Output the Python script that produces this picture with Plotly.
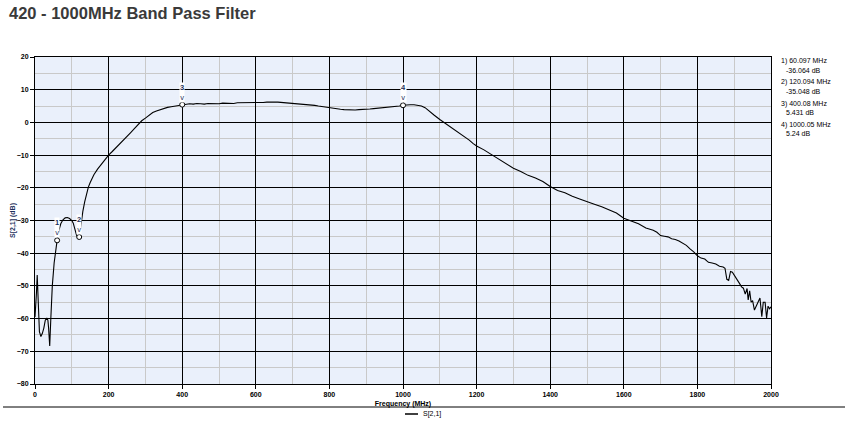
import plotly.graph_objects as go

# ---- data ----
freq_mhz = [0, 2, 4, 6, 8, 10, 12, 16, 20, 24, 28, 32, 35, 37, 40, 43, 47, 52, 56, 60.097,
            65, 70, 76, 82, 88, 94, 100, 104, 108, 113, 117, 120.094, 123, 126, 130, 135,
            140, 145, 150, 160, 170, 180, 190, 200, 210, 220, 230, 240, 250, 260, 270, 280,
            290, 300, 310, 320, 330, 340, 350, 360, 370, 380, 390, 400.08, 410, 420, 430,
            440, 450, 460, 470, 480, 490, 500, 510, 520, 530, 540, 550, 560, 570, 580, 590,
            600, 610, 620, 630, 640, 650, 660, 670, 680, 690, 700, 710, 720, 730, 740, 750,
            760, 770, 780, 790, 800, 810, 820, 830, 840, 850, 860, 870, 880, 890, 900, 910,
            920, 930, 940, 950, 960, 970, 980, 990, 1000.05, 1010, 1020, 1030, 1040, 1050,
            1060, 1070, 1085, 1100, 1120, 1140, 1160, 1170, 1180, 1190, 1200, 1220, 1240,
            1250, 1260, 1280, 1300, 1320, 1340, 1360, 1380, 1400, 1420, 1440, 1460, 1480,
            1500, 1520, 1540, 1560, 1580, 1600, 1620, 1640, 1660, 1680, 1690, 1700, 1710,
            1720, 1730, 1740, 1750, 1760, 1770, 1780, 1790, 1800, 1810, 1820, 1830, 1840,
            1850, 1860, 1870, 1875, 1880, 1885, 1890, 1895, 1900, 1907, 1913, 1920, 1925,
            1930, 1935, 1938, 1942, 1946, 1950, 1955, 1960, 1965, 1970, 1975, 1979, 1984,
            1988, 1992, 1996, 2000]
s21_db = [-59.5, -57.0, -52.0, -46.7, -52.0, -60.0, -64.0, -65.5, -64.5, -62.9, -60.5, -59.8,
          -60.5, -63.0, -68.4, -60.0, -50.0, -43.0, -39.0, -36.064,
          -33.0, -31.0, -29.8, -29.2, -29.1, -29.4, -30.0, -30.8, -32.5, -34.5, -35.2, -35.048,
          -33.0, -29.5, -27.2, -24.3, -21.7, -19.8, -18.4, -16.0, -14.3, -12.8, -11.3, -10.0,
          -8.9, -7.8, -6.6, -5.4, -4.3, -3.1, -1.9, -0.6, 0.5, 1.3, 2.2, 3.0, 3.5, 3.9, 4.3,
          4.6, 4.8, 5.0, 5.2, 5.431, 5.6, 5.7, 5.6, 5.8, 5.7, 5.6, 5.8, 5.7, 5.8, 5.7, 5.9,
          5.8, 5.9, 5.8, 6.0, 6.0, 5.9, 5.9, 6.1, 6.1, 6.0, 6.1, 6.2, 6.3, 6.2, 6.2, 6.1, 6.1,
          6.0, 6.0, 5.9, 5.8, 5.6, 5.5, 5.3, 5.2, 5.0, 4.8, 4.7, 4.5, 4.3, 4.2, 4.0, 3.9, 3.8,
          3.7, 3.8, 3.9, 3.9, 4.0, 4.1, 4.2, 4.3, 4.4, 4.5, 4.6, 4.7, 4.9, 5.0, 5.24, 5.4,
          5.4, 5.4, 5.3, 5.0, 4.5, 3.5, 2.2, 0.9, -0.7, -2.2, -3.7, -4.5, -5.4, -6.4, -7.2,
          -8.4, -9.8, -10.4, -11.2, -12.5, -14.0, -15.0, -16.2, -17.0, -18.1, -19.6, -20.8,
          -21.5, -22.6, -23.4, -24.3, -25.0, -25.8, -26.8, -27.7, -29.3, -30.2, -31.0, -32.3,
          -33.0, -33.6, -34.6, -34.8, -35.0, -35.6, -35.8, -36.3, -36.9, -37.6, -38.7, -39.6,
          -40.8, -41.5, -41.8, -42.8, -43.0, -43.3, -44.0, -44.2, -44.6, -48.0, -48.3, -45.6,
          -45.8, -46.8, -48.0, -49.0, -50.3, -50.7, -52.5, -50.8, -54.3, -51.5, -55.0, -54.5,
          -57.4, -56.0, -55.2, -53.7, -59.4, -55.0, -55.0, -59.8, -56.2, -57.0, -56.4]

marker_ids = [1, 2, 3, 4]
marker_freq = [60.097, 120.094, 400.08, 1000.05]
marker_db = [-36.064, -35.048, 5.431, 5.24]

series_name = "S[2,1]"
title_text = "420 - 1000MHz Band Pass Filter"
x_title = "Frequency (MHz)"
y_title = "S[2,1] (dB)"
x_ticks = [0, 200, 400, 600, 800, 1000, 1200, 1400, 1600, 1800, 2000]
y_ticks = [20, 10, 0, -10, -20, -30, -40, -50, -60, -70, -80]

# ---- geometry ----
W, H = 849, 422
L, R, T, B = 35, 78, 57, 38
pw, ph = W - L - R, H - T - B


def px_x(p):
    return (p - L) / pw


def px_y(p):
    return (H - B - p) / ph


FONT = "Liberation Sans, Arial, sans-serif"
NAVY = "#1c2f5c"

fig = go.Figure()
fig.add_trace(go.Scatter(x=freq_mhz, y=s21_db, mode="lines", name=series_name,
                         showlegend=False, line=dict(color="#000000", width=1.1)))
fig.add_trace(go.Scatter(x=marker_freq, y=marker_db, mode="markers", showlegend=False,
                         hoverinfo="skip",
                         marker=dict(symbol="circle", size=5, color="white",
                                     line=dict(color="black", width=1))))

annotations = [dict(x=px_x(7), y=px_y(13), xref="paper", yref="paper",
                    text=f"<b>{title_text}</b>", showarrow=False, xanchor="left",
                    yanchor="middle", font=dict(family=FONT, size=16.5, color="#3a3a3a")),
               # legend entry text (sample line drawn as a shape below)
               dict(x=px_x(421), y=px_y(414), xref="paper", yref="paper",
                    text=series_name, showarrow=False, xanchor="left", yanchor="middle",
                    font=dict(family=FONT, size=7, color="black"))]
for i, f, d in zip(marker_ids, marker_freq, marker_db):
    annotations.append(dict(x=f, y=d, xref="x", yref="y", text=f"<b>{i}</b><br>v",
                            showarrow=False, yanchor="bottom", yshift=2, bgcolor="white",
                            borderpad=0, font=dict(family=FONT, size=7.5, color=NAVY)))
    k = i - 1
    annotations.append(dict(x=px_x(779), y=px_y(61 + 21.3 * k), xref="paper", yref="paper",
                            text=f"{i}) {f} MHz", showarrow=False, xanchor="left",
                            yanchor="middle", font=dict(family=FONT, size=7, color="#000")))
    annotations.append(dict(x=px_x(784), y=px_y(70 + 21.3 * k), xref="paper", yref="paper",
                            text=f"{d} dB", showarrow=False, xanchor="left",
                            yanchor="middle", font=dict(family=FONT, size=7, color="#000")))

axis_common = dict(showline=True, linecolor="black", linewidth=1, mirror=True,
                   showgrid=True, gridcolor="black", gridwidth=1, zeroline=False,
                   ticks="outside", ticklen=4, tickcolor="black", automargin=False,
                   tickfont=dict(family=FONT, size=7, color="black", weight="bold"))

fig.update_layout(
    width=W, height=H, autosize=False,
    margin=dict(l=L, r=R, t=T, b=B),
    paper_bgcolor="white", plot_bgcolor="#eaf0fb",
    xaxis=dict(range=[0, 2000], tickvals=x_ticks,
               minor=dict(dtick=100, showgrid=True, gridcolor="#c9c9c9", gridwidth=1,
                          ticks=""),
               title=dict(text=x_title, standoff=3,
                          font=dict(family=FONT, size=7, color="black", weight="bold")),
               **axis_common),
    yaxis=dict(range=[-80, 20], tickvals=y_ticks,
               minor=dict(dtick=5, showgrid=True, gridcolor="#c9c9c9", gridwidth=1,
                          ticks=""),
               title=dict(text=y_title, standoff=0,
                          font=dict(family=FONT, size=7, color=NAVY, weight="bold")),
               **axis_common),
    showlegend=False,
    annotations=annotations,
    shapes=[dict(type="line", xref="paper", yref="paper", x0=px_x(3), x1=px_x(845),
                 y0=px_y(407), y1=px_y(407), line=dict(color="black", width=1)),
            dict(type="line", xref="paper", yref="paper", x0=px_x(405), x1=px_x(418),
                 y0=px_y(414), y1=px_y(414), line=dict(color="black", width=1.5))],
    hovermode=False,
)

fig.write_html("out.html", config={"displayModeBar": False},
               post_script="document.body.style.margin='0px';")
